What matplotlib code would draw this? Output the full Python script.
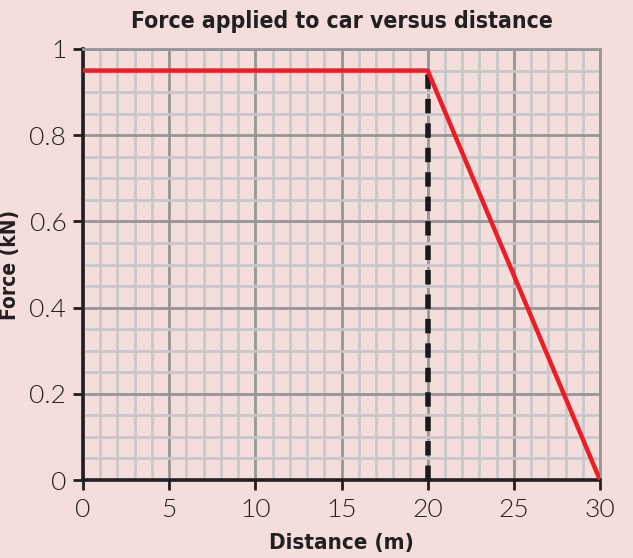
import numpy as np
import matplotlib
matplotlib.use('Agg')
import matplotlib.pyplot as plt
from matplotlib.ticker import MultipleLocator

# data
distance = [0, 20, 30]
force = [0.95, 0.95, 0.0]
drop_x = [20, 20]
drop_y = [0.0, 0.95]

xticks = [0, 5, 10, 15, 20, 25, 30]
yticks = [0, 0.2, 0.4, 0.6, 0.8, 1.0]
yticklabels = ['0', '0.2', '0.4', '0.6', '0.8', '1']

ink = '#231f20'
bg = '#f3dedc'
fig = plt.figure(figsize=(6.33, 5.58), dpi=100, facecolor=bg)
ax = fig.add_axes([83 / 633, 78 / 558, 517 / 633, 431 / 558])
ax.set_facecolor(bg)

ax.set_xlim(0, 30)
ax.set_ylim(0, 1)
ax.xaxis.set_minor_locator(MultipleLocator(1))
ax.yaxis.set_minor_locator(MultipleLocator(0.05))
ax.grid(which='minor', color='#c8c8c8', lw=2.0, zorder=0)
ax.grid(which='major', color='#969696', lw=2.0, zorder=1)
ax.set_axisbelow(True)

ax.plot(drop_x, drop_y, color='#1a1a1a', lw=4, dashes=(2.6, 1.8), zorder=3)
ax.plot(distance, force, color='#ee1c25', lw=3.2, solid_capstyle='butt', zorder=4)

ax.set_xticks(xticks)
ax.set_yticks(yticks)
ax.set_yticklabels(yticklabels)
ax.tick_params(which='major', direction='out', length=7, width=2, color=ink,
               labelsize=19, labelcolor=ink)
ax.tick_params(axis='x', pad=6)
ax.tick_params(axis='y', pad=5)
ax.tick_params(which='minor', length=0)
for lab in ax.get_xticklabels() + ax.get_yticklabels():
    lab.set_family('Lato')
    lab.set_fontweight(300)

for s in ['left', 'bottom']:
    ax.spines[s].set_color(ink)
    ax.spines[s].set_linewidth(2.6)
for s in ['top', 'right']:
    ax.spines[s].set_color('#969696')
    ax.spines[s].set_linewidth(2.0)

ax.set_title('Force applied to car versus distance', fontsize=16.5, fontweight='bold',
             family='DejaVu Sans', fontstretch='condensed', color=ink, pad=15)
ax.set_xlabel('Distance (m)', fontsize=16, fontweight='bold', family='DejaVu Sans',
              fontstretch='condensed', color=ink, labelpad=8)
ax.set_ylabel('Force (kN)', fontsize=15, fontweight='bold', family='DejaVu Sans',
              fontstretch='condensed', color=ink)
ax.yaxis.set_label_coords(-0.122, 0.5)

fig.savefig('out.png', dpi=100, facecolor=bg)
